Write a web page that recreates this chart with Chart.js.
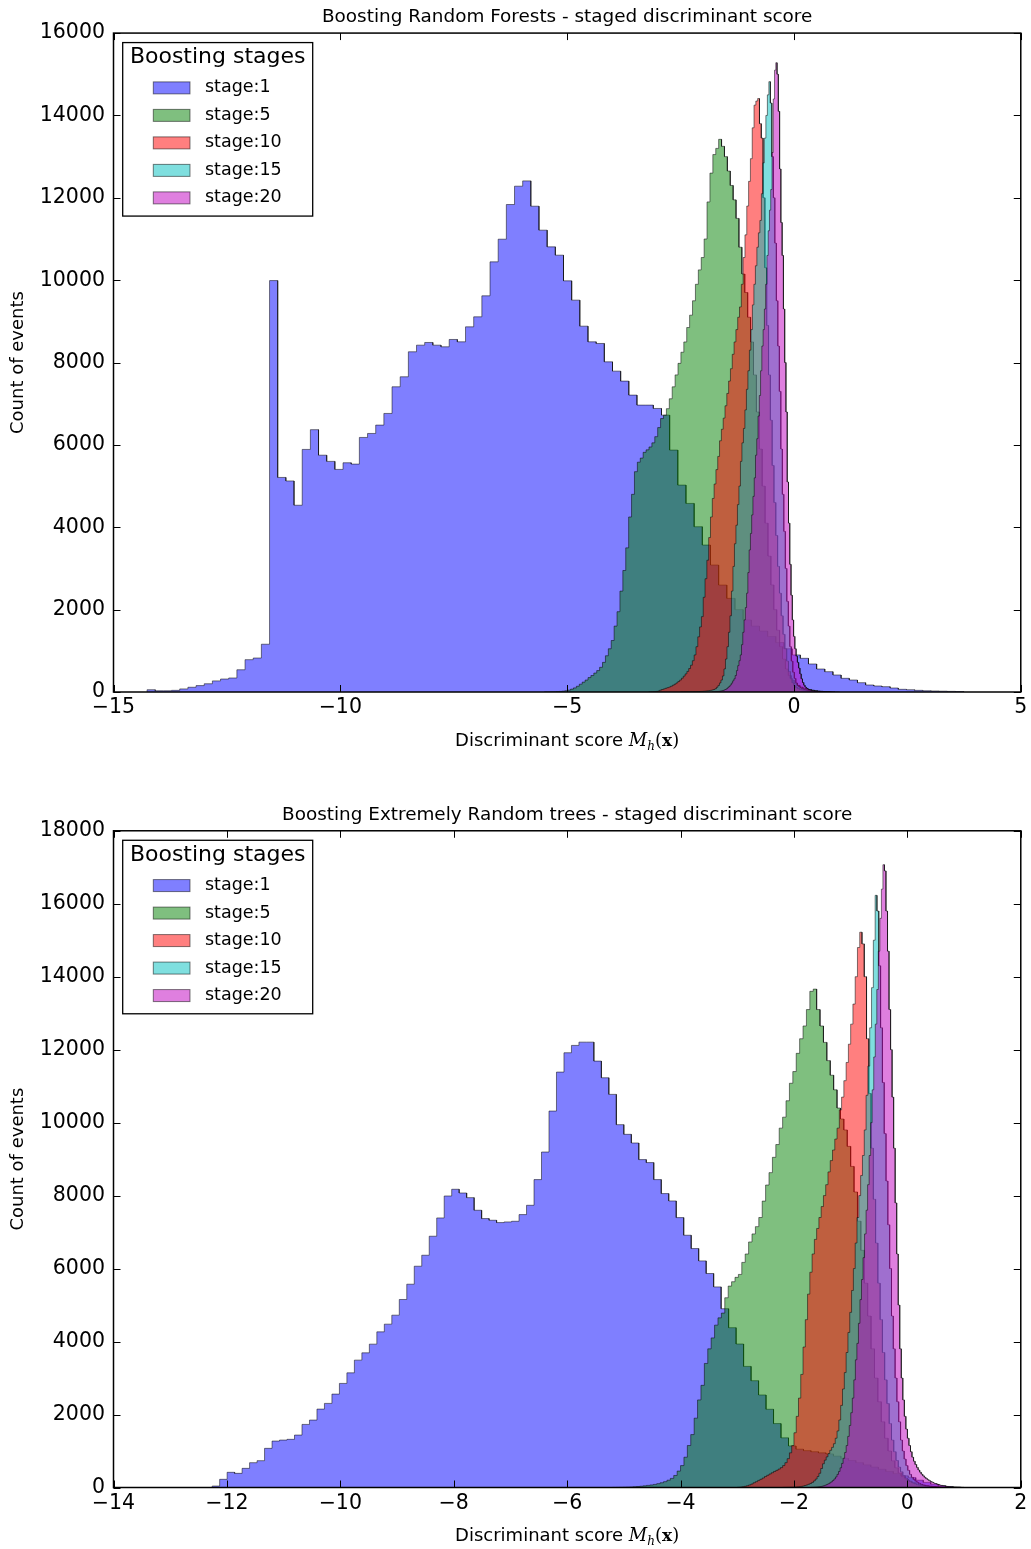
<!DOCTYPE html>
<html>
<head>
<meta charset="utf-8">
<script src="https://cdn.jsdelivr.net/npm/chart.js@4.4.1/dist/chart.umd.min.js"></script>
<style>
  html, body { margin: 0; padding: 0; background: #fff; width: 1031px; height: 1549px; overflow: hidden; }
  canvas { position: absolute; left: 0; }
</style>
</head>
<body>
<canvas id="rf" width="1031" height="797" style="top:0px"></canvas>
<canvas id="et" width="1031" height="752" style="top:797px"></canvas>
<script>
// ---- data ---------------------------------------------------------------
const stageLabels = ['stage:1', 'stage:5', 'stage:10', 'stage:15', 'stage:20'];

// Random forests: [lo, hi] of the 100 equal-width bins for each stage
const rfRanges = [[-14.26, 3.74], [-5.5, 0.9], [-3.2, 0.8], [-2.5, 0.8], [-1.8, 1.0]];

const rfStage1 = [
  55, 30, 30, 40, 75, 115, 155, 200, 270, 315,
  340, 540, 785, 825, 1160, 9990, 5210, 5125, 4535, 5890,
  6370, 5750, 5600, 5405, 5566, 5534, 6181, 6278, 6481, 6764,
  7411, 7654, 8261, 8422, 8487, 8422, 8382, 8560, 8503, 8867,
  9110, 9620, 10445, 10995, 11837, 12282, 12411, 11796, 11214, 10809,
  10607, 9984, 9515, 8883, 8503, 8463, 8017, 7791, 7549, 7209,
  6966, 6966, 6885, 6723, 5874, 5024, 4579, 4013, 3568, 3083,
  2597, 2274, 2000, 1750, 1600, 1480, 1350, 1200, 1050, 900,
  818, 680, 558, 493, 413, 332, 291, 226, 170, 146,
  129, 97, 65, 55, 40, 30, 25, 20, 15, 10];

const rfStage5 = [
  3, 2, 5, 6, 10, 14, 20, 30, 45, 70,
  100, 140, 190, 240, 290, 350, 400, 460, 520, 600,
  720, 880, 1050, 1250, 1600, 1950, 2450, 2950, 3500, 4250,
  4800, 5350, 5580, 5680, 5820, 5880, 5950, 6050, 6200, 6420,
  6640, 6720, 6880, 7120, 7410, 7700, 7980, 8250, 8500, 8850,
  9150, 9500, 9900, 10250, 10550, 11000, 11900, 12600, 13050, 13200,
  13420, 13250, 13000, 12650, 12300, 11950, 11500, 10800, 10150, 9700,
  9100, 8500, 7700, 6800, 5900, 5000, 4100, 3300, 2600, 2000,
  1500, 1100, 800, 560, 400, 290, 210, 160, 120, 95,
  75, 60, 45, 35, 25, 18, 12, 8, 5, 3];

const rfStage10 = [
  2, 4, 6, 9, 14, 25, 45, 60, 75, 90,
  105, 120, 140, 165, 190, 220, 255, 290, 335, 385,
  440, 500, 570, 650, 760, 900, 1100, 1340, 1580, 1830,
  2300, 2750, 3200, 3750, 4250, 4700, 5050, 5400, 5720, 6100,
  6380, 6650, 6950, 7250, 7550, 7850, 8200, 8500, 8800, 9100,
  9350, 9900, 10550, 11100, 11800, 12400, 12950, 13700, 14250, 14350,
  14410, 13800, 13450, 12000, 10300, 8900, 7700, 6600, 5500, 4600,
  3800, 3050, 2400, 1850, 1400, 1050, 750, 500, 330, 220,
  150, 110, 85, 65, 52, 42, 35, 29, 24, 20,
  16, 13, 11, 9, 7, 5, 4, 3, 2, 2];

const rfStage15 = [
  2, 2, 3, 3, 4, 4, 5, 6, 7, 8,
  9, 11, 12, 14, 16, 19, 22, 26, 31, 36,
  42, 50, 60, 80, 115, 160, 220, 290, 390, 560,
  800, 1100, 1450, 1850, 2450, 3050, 3600, 4050, 4550, 5000,
  5600, 6050, 6400, 6850, 7350, 7800, 8300, 8800, 9400, 9900,
  10350, 10800, 11150, 11450, 12100, 12850, 13450, 14000, 14500, 14820,
  14300, 13000, 12000, 10900, 9500, 8400, 7300, 5900, 4800, 3900,
  3000, 2200, 1600, 1100, 750, 480, 330, 220, 160, 125,
  100, 82, 68, 56, 46, 38, 32, 27, 22, 18,
  15, 12, 10, 8, 6, 5, 4, 3, 2, 2];

const rfStage20 = [
  3, 4, 6, 9, 12, 16, 21, 27, 36, 48,
  60, 80, 105, 135, 170, 215, 270, 320, 400, 520,
  640, 760, 900, 1150, 1450, 1750, 2050, 2400, 2900, 3450,
  3850, 4300, 4750, 5200, 5750, 6150, 6700, 7200, 7800, 8400,
  8800, 9300, 9900, 10600, 11200, 11700, 12200, 13100, 14400, 15100,
  15280, 15000, 14100, 12700, 11400, 10600, 9300, 8000, 6800, 5100,
  4100, 3100, 2350, 1750, 1350, 1050, 870, 720, 580, 440,
  320, 230, 165, 120, 90, 70, 56, 46, 38, 32,
  27, 23, 20, 17, 15, 13, 11, 10, 9, 8,
  7, 6, 5, 5, 4, 4, 3, 3, 2, 2];

// Extremely random trees: [lo, hi] of the 100 equal-width bins for each stage
const etRanges = [[-12.26, 0.94], [-5.2, 0.8], [-3.0, 1.0], [-2.2, 1.0], [-1.7, 1.0]];

const etStage1 = [
  40, 224, 416, 388, 525, 680, 735, 1073, 1273, 1300,
  1320, 1437, 1729, 1848, 2149, 2305, 2560, 2853, 3143, 3491,
  3691, 3929, 4266, 4477, 4723, 5153, 5572, 6065, 6366, 6887,
  7388, 7990, 8174, 8072, 7945, 7599, 7371, 7325, 7261, 7279,
  7297, 7480, 7735, 8439, 9195, 10318, 11386, 11916, 12117, 12207,
  12207, 11687, 11230, 10775, 9945, 9680, 9442, 8987, 8905, 8439,
  8056, 7854, 7397, 6914, 6549, 6211, 5865, 5498, 4900, 4380,
  3933, 3319, 2927, 2536, 2144, 1752, 1361, 1139, 1050, 1010,
  980, 950, 920, 860, 800, 740, 680, 620, 560, 500,
  440, 380, 320, 270, 200, 140, 90, 50, 25, 10];

const etStage5 = [
  2, 3, 5, 7, 10, 14, 20, 27, 35, 45,
  58, 70, 85, 105, 130, 160, 200, 250, 330, 450,
  600, 830, 1150, 1450, 1900, 2400, 2800, 3400, 3800, 4100,
  4450, 4650, 4780, 5200, 5520, 5640, 5760, 5840, 6170, 6400,
  6730, 6950, 7150, 7400, 7850, 8290, 8630, 9050, 9400, 9850,
  10150, 10600, 11080, 11400, 11900, 12300, 12650, 13100, 13600, 13660,
  13100, 12650, 12200, 11700, 11300, 10900, 10400, 10100, 9800, 9350,
  8800, 8100, 7300, 6500, 5600, 4700, 3800, 3000, 2350, 1800,
  1350, 1000, 730, 540, 400, 300, 230, 175, 135, 105,
  80, 62, 48, 36, 27, 20, 14, 9, 6, 3];

const etStage10 = [
  5, 10, 20, 32, 48, 70, 95, 130, 160, 195,
  225, 260, 300, 335, 370, 405, 440, 470, 505, 545,
  600, 680, 790, 950, 1150, 1500, 1950, 2450, 3100, 3850,
  4600, 5300, 5900, 6400, 6800, 7100, 7400, 7700, 8000, 8300,
  8650, 8960, 9250, 9550, 9850, 10350, 10700, 11150, 11650, 12150,
  12700, 13250, 14000, 14800, 15220, 14900, 14000, 12300, 10800, 9300,
  7900, 6700, 5600, 4600, 3700, 2950, 2300, 1750, 1300, 980,
  740, 560, 430, 330, 260, 200, 160, 125, 100, 80,
  64, 52, 42, 34, 28, 23, 19, 15, 12, 10,
  8, 7, 6, 5, 4, 3, 3, 2, 2, 1];

const etStage15 = [
  2, 3, 4, 5, 6, 8, 10, 13, 17, 22,
  30, 40, 55, 70, 88, 110, 140, 180, 230, 300,
  390, 520, 650, 750, 840, 930, 1020, 1100, 1200, 1350,
  1550, 1850, 2250, 2700, 3150, 3700, 4250, 4800, 5400, 6000,
  6700, 7400, 8000, 8550, 9100, 9800, 10750, 11550, 12600, 13700,
  15000, 16230, 15800, 14300, 12600, 11100, 9700, 8400, 7200, 6000,
  4700, 3800, 3000, 2350, 1800, 1300, 1000, 780, 600, 470,
  360, 280, 220, 175, 140, 112, 90, 72, 58, 47,
  38, 31, 25, 21, 17, 14, 12, 10, 8, 7,
  6, 5, 4, 4, 3, 3, 2, 2, 2, 1];

const etStage20 = [
  3, 5, 7, 10, 14, 19, 26, 35, 47, 62,
  80, 100, 125, 155, 190, 235, 290, 360, 440, 540,
  660, 800, 960, 1150, 1400, 1700, 2050, 2450, 2950, 3500,
  3950, 4500, 5150, 5700, 6300, 6950, 7600, 8300, 9100, 10000,
  10900, 11800, 12700, 13650, 14700, 15600, 16400, 17070, 16900, 15800,
  14700, 13100, 12000, 10700, 9300, 7800, 6400, 5000, 3800, 3000,
  2400, 1950, 1600, 1350, 1150, 980, 830, 720, 630, 550,
  480, 420, 365, 320, 280, 245, 215, 188, 164, 143,
  124, 108, 93, 80, 68, 58, 49, 41, 34, 28,
  23, 18, 14, 11, 8, 6, 5, 4, 3, 2];

const rfCounts = [rfStage1, rfStage5, rfStage10, rfStage15, rfStage20];
const etCounts = [etStage1, etStage5, etStage10, etStage15, etStage20];

// ---- styling ------------------------------------------------------------
const FILLS = ['rgba(0,0,255,0.5)', 'rgba(0,128,0,0.5)', 'rgba(255,0,0,0.5)',
               'rgba(0,191,191,0.5)', 'rgba(191,0,191,0.5)'];
const EDGE = 'rgba(0,0,0,0.5)';
const FONT = '"DejaVu Sans", "Liberation Sans", sans-serif';

Chart.defaults.font.family = FONT;
Chart.defaults.color = '#000';

// outline of a filled step histogram built from bin range and counts
function stepOutline(range, counts) {
  const lo = range[0], hi = range[1], n = counts.length, w = (hi - lo) / n;
  const pts = [{x: lo, y: 0}];
  counts.forEach((c, i) => {
    pts.push({x: lo + i * w, y: c});
    pts.push({x: lo + (i + 1) * w, y: c});
  });
  pts.push({x: hi, y: 0});
  return pts;
}

function minusFmt(v) {
  return v < 0 ? '\u2212' + Math.abs(v) : String(v);
}

// axes frame with inward ticks on all four sides
const framePlugin = {
  id: 'frame',
  afterDatasetsDraw(chart) {
    const {ctx, chartArea: a, scales: {x, y}} = chart;
    const L = 7;
    ctx.save();
    ctx.strokeStyle = '#000';
    ctx.lineWidth = 1;
    ctx.beginPath();
    x.ticks.forEach(t => {
      const p = Math.round(x.getPixelForValue(t.value)) + 0.5;
      ctx.moveTo(p, a.bottom); ctx.lineTo(p, a.bottom - L);
      ctx.moveTo(p, a.top); ctx.lineTo(p, a.top + L);
    });
    y.ticks.forEach(t => {
      const p = Math.round(y.getPixelForValue(t.value)) + 0.5;
      ctx.moveTo(a.left, p); ctx.lineTo(a.left + L, p);
      ctx.moveTo(a.right, p); ctx.lineTo(a.right - L, p);
    });
    ctx.stroke();
    ctx.lineWidth = 1.5;
    ctx.strokeRect(a.left, a.top, a.right - a.left, a.bottom - a.top);
    ctx.restore();
  }
};

// boxed legend in the upper-left corner of the axes
const legendPlugin = {
  id: 'stageLegend',
  afterDraw(chart) {
    const {ctx, chartArea: a} = chart;
    const bx = a.left + 9.2, by = a.top + 9.5, bw = 190, bh = 173.5;
    ctx.save();
    ctx.fillStyle = '#fff';
    ctx.fillRect(bx, by, bw, bh);
    ctx.strokeStyle = '#000';
    ctx.lineWidth = 1.3;
    ctx.strokeRect(bx, by, bw, bh);
    ctx.fillStyle = '#000';
    ctx.textBaseline = 'middle';
    ctx.textAlign = 'center';
    ctx.font = '22px ' + FONT;
    ctx.fillText('Boosting stages', bx + bw / 2, a.top + 24.5);
    ctx.textAlign = 'left';
    ctx.font = '17.5px ' + FONT;
    chart.data.datasets.forEach((ds, i) => {
      const cy = a.top + 54.8 + 27.5 * i;
      ctx.fillStyle = '#fff';
      ctx.fillRect(bx + 30.6, cy - 6, 36.7, 12);
      ctx.fillStyle = ds.backgroundColor;
      ctx.fillRect(bx + 30.6, cy - 6, 36.7, 12);
      ctx.strokeStyle = EDGE;
      ctx.lineWidth = 1;
      ctx.strokeRect(bx + 30.6, cy - 6, 36.7, 12);
      ctx.fillStyle = '#000';
      ctx.fillText(ds.label, bx + 82.3, cy);
    });
    ctx.restore();
  }
};

// x-axis caption with the math-styled symbol M_h(x)
const xCaptionPlugin = {
  id: 'xCaption',
  afterDraw(chart) {
    const {ctx, chartArea: a} = chart;
    const runs = [
      {t: 'Discriminant score ', f: '18px ' + FONT, dy: 0},
      {t: 'M', f: 'italic 18px "DejaVu Serif", serif', dy: 0},
      {t: 'h', f: 'italic 12px "DejaVu Serif", serif', dy: 4},
      {t: '(', f: '18px "DejaVu Serif", serif', dy: 0},
      {t: 'x', f: 'bold 17px "DejaVu Serif", serif', dy: 0},
      {t: ')', f: '18px "DejaVu Serif", serif', dy: 0}
    ];
    ctx.save();
    let total = 0;
    runs.forEach(r => { ctx.font = r.f; r.w = ctx.measureText(r.t).width; total += r.w; });
    let x = (a.left + a.right) / 2 - total / 2;
    const base = a.bottom + 53.5;
    ctx.fillStyle = '#000';
    ctx.textBaseline = 'alphabetic';
    ctx.textAlign = 'left';
    runs.forEach(r => { ctx.font = r.f; ctx.fillText(r.t, x, base + r.dy); x += r.w; });
    ctx.restore();
  }
};

function makeChart(id, titleText, titlePad, ranges, counts, xMin, xMax, xStep, yMax, xAxisHeight) {
  const datasets = counts.map((c, i) => ({
    label: stageLabels[i],
    data: stepOutline(ranges[i], c),
    backgroundColor: FILLS[i],
    borderColor: EDGE,
    borderWidth: 1,
    fill: 'origin',
    pointRadius: 0,
    pointHoverRadius: 0,
    tension: 0,
    order: counts.length - i
  }));
  return new Chart(document.getElementById(id), {
    type: 'line',
    data: {datasets},
    options: {
      responsive: false,
      animation: false,
      devicePixelRatio: 1,
      events: [],
      layout: {padding: {left: 0, right: 10, top: 0, bottom: 0}, autoPadding: false},
      plugins: {
        legend: {display: false},
        tooltip: {enabled: false},
        title: {
          display: true,
          fullSize: false,
          text: titleText,
          font: {size: 18.4, weight: 'normal'},
          color: '#000',
          padding: titlePad
        }
      },
      scales: {
        x: {
          type: 'linear',
          min: xMin, max: xMax,
          grid: {display: false, drawTicks: false},
          border: {display: false},
          ticks: {stepSize: xStep, padding: 3.7, maxRotation: 0, autoSkip: false,
                  font: {size: 20.5}, callback: minusFmt},
          afterFit: s => { s.height = xAxisHeight; }
        },
        y: {
          type: 'linear',
          min: 0, max: yMax,
          grid: {display: false, drawTicks: false},
          border: {display: false},
          ticks: {stepSize: 2000, padding: 8.5, font: {size: 20.5}, callback: v => String(v)},
          title: {display: true, text: 'Count of events', font: {size: 18}, padding: {top: 8, bottom: 0}},
          afterFit: s => { s.width = 113.5; }
        }
      }
    },
    plugins: [framePlugin, legendPlugin, xCaptionPlugin]
  });
}

makeChart('rf', 'Boosting Random Forests - staged discriminant score', {top: 6, bottom: 5},
          rfRanges, rfCounts, -15, 5, 5, 16000, 105);
makeChart('et', 'Boosting Extremely Random trees - staged discriminant score', {top: 7, bottom: 4.7},
          etRanges, etCounts, -14, 2, 2, 18000, 61.5);
</script>
</body>
</html>
